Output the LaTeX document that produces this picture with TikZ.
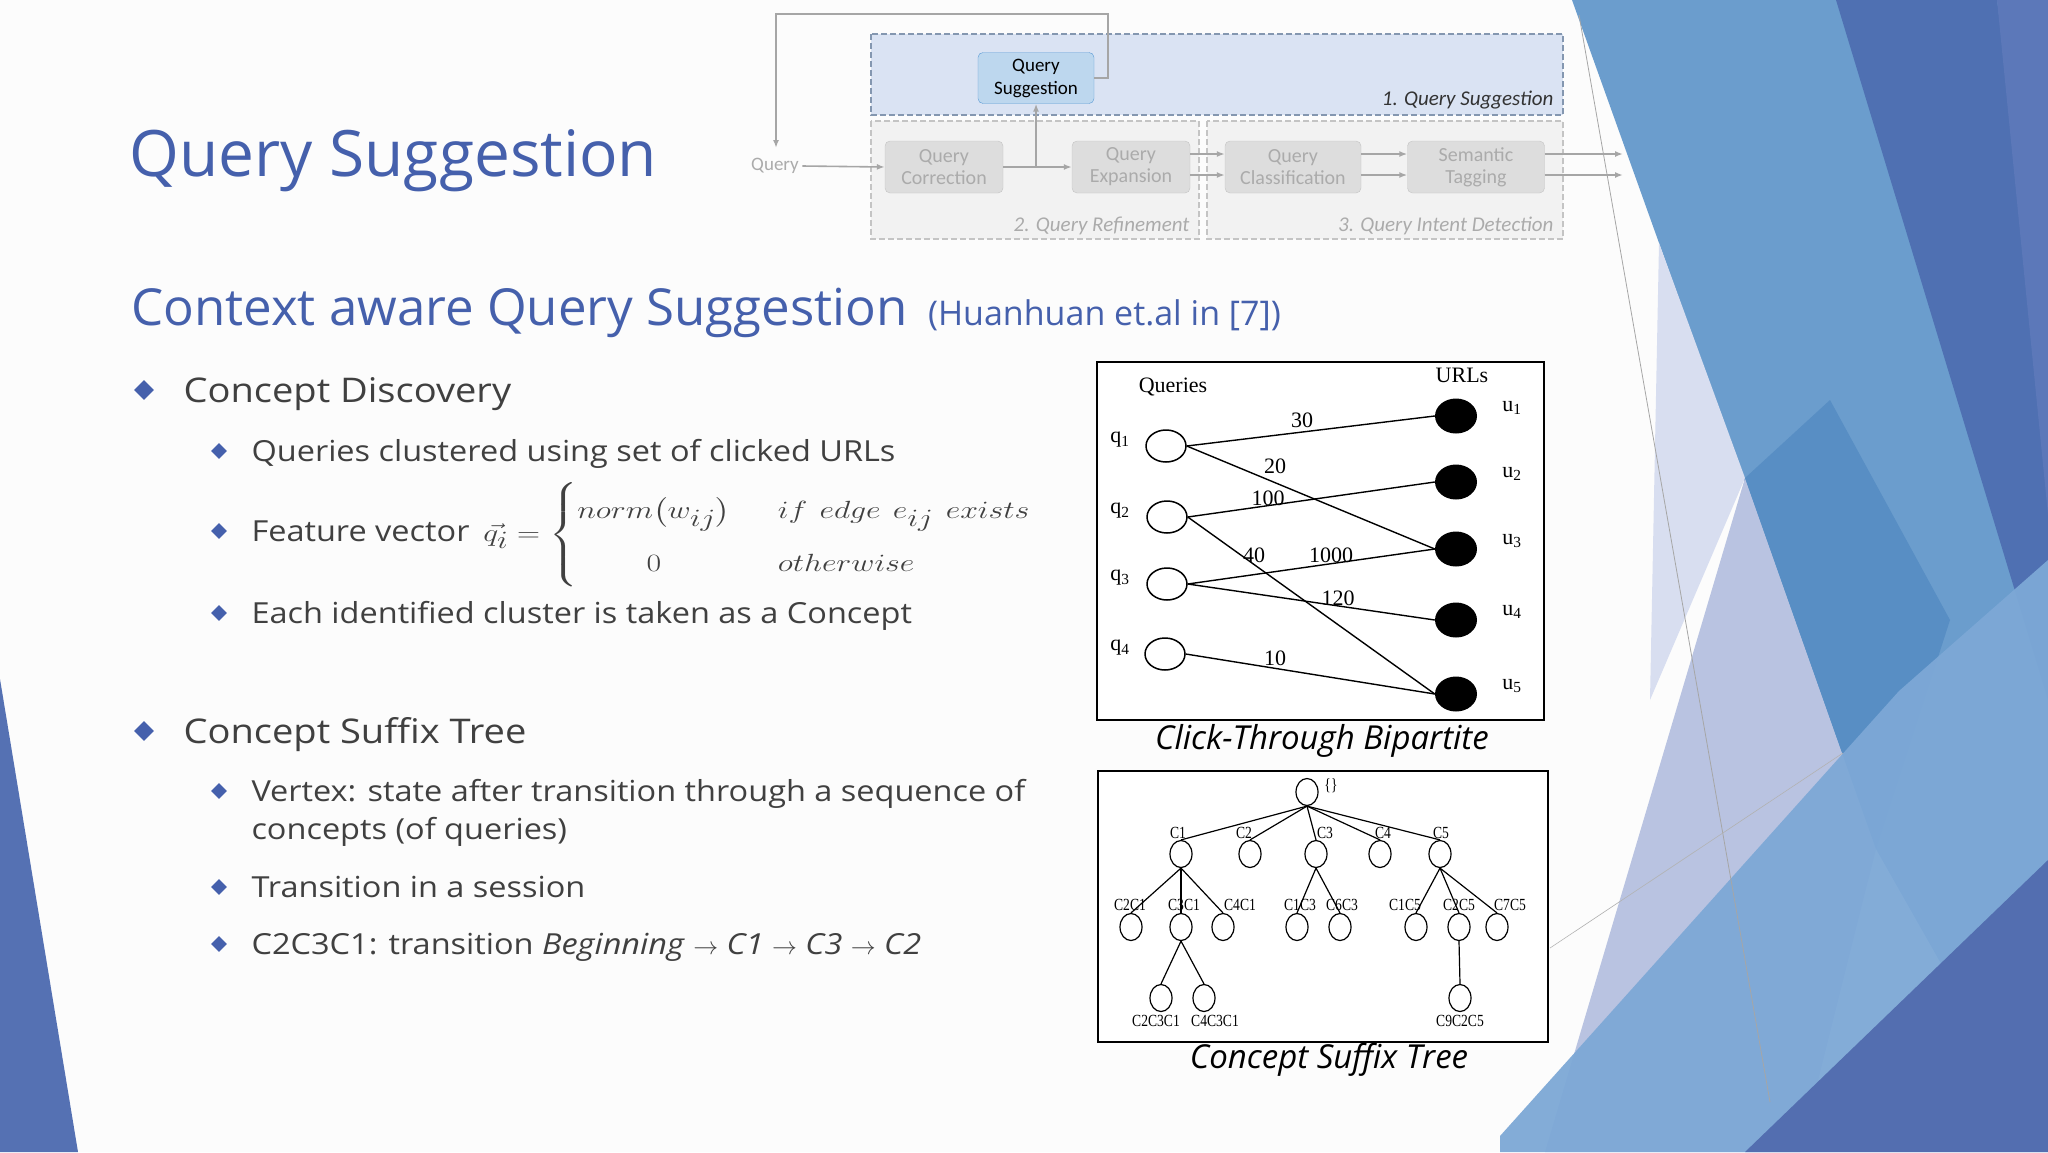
\documentclass[tikz,border=0pt]{standalone}
\usepackage{amsmath}
\usepackage{fontspec}
\setmainfont{Open Sans}
\newfontfamily\bodyfont[FakeStretch=1.12]{Open Sans}
\newfontfamily\calfont{Carlito}
\newfontfamily\timesfont{Liberation Serif}
\newfontfamily\timesnarrow[FakeStretch=0.8]{Liberation Serif}
\usetikzlibrary{shapes.geometric,arrows.meta}
\definecolor{ttl}{HTML}{4560AC}
\definecolor{txt}{HTML}{404040}
\definecolor{bul}{HTML}{4560AC}
\definecolor{gbox}{HTML}{DDDDDD}
\definecolor{gdraw}{HTML}{C4C4C4}
\definecolor{gtxt}{HTML}{ABABAB}
\definecolor{lefttri}{HTML}{5571B3}
\definecolor{bluefill}{HTML}{DAE3F3}
\definecolor{bluedraw}{HTML}{8497B0}
\definecolor{greyfill}{HTML}{F2F2F2}
\definecolor{dark3}{HTML}{333333}
\definecolor{qsdraw}{HTML}{5B9BD5}
\definecolor{qsfill}{HTML}{BDD7EE}
\definecolor{bgA}{RGB}{107,157,205}
\definecolor{bgB}{RGB}{79,112,178}
\definecolor{bgC}{RGB}{92,120,185}
\definecolor{bgD}{RGB}{216,222,240}
\definecolor{bgE}{RGB}{185,195,225}
\definecolor{bgF}{RGB}{88,142,196}
\definecolor{bgG}{RGB}{125,168,214}
\definecolor{bgH}{RGB}{83,110,176}
\begin{document}
\begin{tikzpicture}[x=1pt,y=-1pt,
  lone/.style={diamond,fill=bul,inner sep=0pt,minimum size=20pt},
  ltwo/.style={diamond,fill=bul,inner sep=0pt,minimum size=16pt},
  tone/.style={anchor=base west,text=txt,font=\bodyfont\fontsize{34}{40}\selectfont},
  ttwo/.style={anchor=base west,text=txt,font=\bodyfont\fontsize{29}{36}\selectfont},
  gnode/.style={draw=gdraw,fill=gbox,rounded corners=5pt,text=gtxt,align=center,font=\calfont\fontsize{20}{22}\selectfont,minimum height=52pt,inner sep=1pt},
  garr/.style={draw=gray!70,line width=1.6pt,-{Latex[length=8pt,width=6pt]}},
  qn/.style={ellipse,draw,line width=1.5pt,minimum width=40pt,minimum height=32pt,inner sep=0pt},
  un/.style={ellipse,fill=black,minimum width=42pt,minimum height=35pt,inner sep=0pt},
  bl/.style={font=\timesfont\fontsize{22}{24}\selectfont},
  tn/.style={ellipse,draw,line width=1.2pt,minimum width=22pt,minimum height=27pt,inner sep=0pt},
  tl/.style={font=\timesnarrow\fontsize{17}{18}\selectfont,inner sep=0pt},
  edge/.style={line width=1.4pt}]
\useasboundingbox (0,0) rectangle (2048,1152);
\fill[white!98!gray] (0,0) rectangle (2048,1152);
% background shapes
\fill[lefttri] (0,679) -- (78,1152) -- (0,1152) -- cycle;
\fill[bgA] (1572,0) -- (2048,0) -- (2048,1152) -- (1876,849) -- cycle;
\fill[bgB] (1836,0) -- (1997,0) -- (2048,400) -- (2048,700) -- cycle;
\fill[bgC] (1997,0) -- (2048,0) -- (2048,515) -- cycle;
\fill[bgD] (1659,243) -- (1745,478) -- (1650,700) -- cycle;
\fill[bgE] (1545,1152) -- (1745,478) -- (1876,849) -- (1800,1152) -- cycle;
\fill[bgF] (1745,478) -- (1876,849) -- (1950,620) -- (1830,400) -- cycle;
\fill[bgG,opacity=0.95] (1500,1152) -- (1500,1136) -- (1899,691) -- (2048,560) -- (2048,1152) -- cycle;
\fill[bgH] (1745,1152) -- (2048,860) -- (2048,1152) -- cycle;
\draw[gray!70,line width=0.8pt] (1579,15) -- (1770,1102);
\draw[gray!60,line width=0.6pt] (1550,948) -- (1843,753);
% title
\node[anchor=base west,text=ttl,font=\fontsize{64}{70}\selectfont] (title) at (126,176) {Query Suggestion};
\node[anchor=base west,text=ttl,font=\fontsize{51}{56}\selectfont,inner sep=0pt] (sub) at (131,325) {Context aware Query Suggestion};
\node[anchor=base west,text=ttl,font=\fontsize{34}{38}\selectfont,inner sep=0pt] (subr) at ([xshift=20pt]sub.base east) {(Huanhuan et.al in [7])};
% bullets
\node[lone] (d1) at (144,390) {};
\node[tone] (b1) at (180,402) {Concept Discovery};
\node[ltwo] (d11) at (219,451) {};
\node[ttwo] (b11) at (248,461) {Queries clustered using set of clicked URLs};
\node[ltwo] (d12) at (219,531) {};
\node[ttwo] (b12) at (248,541) {Feature vector};
\node[anchor=base west,text=txt,font=\fontsize{37}{44}\selectfont,inner sep=0pt] (f12) at ([xshift=10pt]b12.base east) {\scalebox{1.28}[1]{$\vec{q_i}=\begin{cases} norm\bigl(w_{ij}\bigr) & if\ edge\ e_{ij}\ exists\\ \hfil 0 & otherwise\end{cases}$}};
\node[ltwo] (d13) at (219,613) {};
\node[ttwo] (b13) at (248,623) {Each identified cluster is taken as a Concept};
\node[lone] (d2) at (144,731) {};
\node[tone] (b2) at (180,743) {Concept Suffix Tree};
\node[ltwo] (d21) at (219,791) {};
\node[ttwo] (b21) at (248,801) {Vertex: state after transition through a sequence of};
\node[ttwo] (b21b) at (248,839) {concepts (of queries)};
\node[ltwo] (d22) at (219,887) {};
\node[ttwo] (b22) at (248,897) {Transition in a session};
\node[ltwo] (d23) at (219,944) {};
\node[ttwo] (b23) at (248,954) {C2C3C1: transition \textit{Beginning} $\rightarrow$ \textit{C1} $\rightarrow$ \textit{C3} $\rightarrow$ \textit{C2}};
% top diagram
\filldraw[fill=bluefill,draw=bluedraw,line width=1.3pt,dash pattern=on 6pt off 3pt] (871,34) rectangle (1563,115);
\filldraw[fill=greyfill,draw=gdraw,line width=1.3pt,dash pattern=on 6pt off 3pt] (871,121) rectangle (1199,239);
\filldraw[fill=greyfill,draw=gdraw,line width=1.3pt,dash pattern=on 6pt off 3pt] (1207,121) rectangle (1563,239);
\node[anchor=south east,font=\calfont\itshape\fontsize{21}{22}\selectfont,text=dark3] (l1) at (1557,113) {1. Query Suggestion};
\node[anchor=south east,font=\calfont\itshape\fontsize{21}{22}\selectfont,text=gtxt] (l2) at (1193,238) {2. Query Refinement};
\node[anchor=south east,font=\calfont\itshape\fontsize{21}{22}\selectfont,text=gtxt] (l3) at (1557,238) {3. Query Intent Detection};
\node[draw=qsdraw,fill=qsfill,rounded corners=5pt,align=center,font=\calfont\fontsize{19}{23}\selectfont,minimum width=116pt,minimum height=51pt,inner sep=1pt] (qs) at (1036,78) {Query\\Suggestion};
\node[gnode,minimum width=118pt] (qc) at (944,167) {Query\\Correction};
\node[gnode,minimum width=118pt] (qe) at (1131,167) {Query\\Expansion};
\node[gnode,minimum width=136pt] (qcl) at (1293,167) {Query\\Classification};
\node[gnode,minimum width=137pt] (st) at (1476,167) {Semantic\\Tagging};
\node[text=gtxt,font=\calfont\fontsize{19}{20}\selectfont] (q) at (775,166) {Query};
\coordinate (fb1) at (1108,78);
\coordinate (fb2) at (1108,14);
\coordinate (fb3) at (776,14);
\coordinate (fb4) at (776,148);
\coordinate (br) at (1036,167);
\coordinate (o1) at (1623,154);
\coordinate (o2) at (1623,175);
\draw[garr] (qs.east) -- (fb1) -- (fb2) -- (fb3) -- (fb4);
\draw[garr] (q.east) -- (qc.west);
\draw[garr] (qc.east) -- (qe.west);
\draw[garr] (br) -- (qs.south);
\draw[garr] ([yshift=13pt]qe.east) -- ([yshift=13pt]qcl.west);
\draw[garr] ([yshift=-8pt]qe.east) -- ([yshift=-8pt]qcl.west);
\draw[garr] ([yshift=13pt]qcl.east) -- ([yshift=13pt]st.west);
\draw[garr] ([yshift=-8pt]qcl.east) -- ([yshift=-8pt]st.west);
\draw[garr] ([yshift=13pt]st.east) -- (o1);
\draw[garr] ([yshift=-8pt]st.east) -- (o2);
% bipartite
\draw[fill=white,line width=1.5pt] (1097,362) rectangle (1544,720);
\node[bl] (hq) at (1173,387) {Queries};
\node[bl] (hu) at (1462,375) {URLs};
\node[qn] (q1) at (1166,446) {};
\node[qn] (q2) at (1167,517) {};
\node[qn] (q3) at (1167,584) {};
\node[qn] (q4) at (1165,654) {};
\node[un] (u1) at (1456,416) {};
\node[un] (u2) at (1456,482) {};
\node[un] (u3) at (1456,549) {};
\node[un] (u4) at (1456,620) {};
\node[un] (u5) at (1456,694) {};
\foreach \i/\y in {1/446,2/517,3/584,4/654} \node[bl] (ql\i) at (1120,\y-6) {q\textsubscript{\i}};
\foreach \i/\y in {1/416,2/482,3/549,4/620,5/694} \node[bl] (ul\i) at (1512,\y-8) {u\textsubscript{\i}};
\draw[edge] (q1.east) -- (u1.west);
\draw[edge] (q1.east) -- (u3.west);
\draw[edge] (q2.east) -- (u2.west);
\draw[edge] (q2.east) -- (u5.west);
\draw[edge] (q3.east) -- (u3.west);
\draw[edge] (q3.east) -- (u4.west);
\draw[edge] (q4.east) -- (u5.west);
\node[bl] (w30) at (1302,420) {30};
\node[bl] (w20) at (1275,466) {20};
\node[bl] (w100) at (1268,498) {100};
\node[bl] (w40) at (1254,555) {40};
\node[bl] (w1000) at (1331,555) {1000};
\node[bl] (w120) at (1338,598) {120};
\node[bl] (w10) at (1275,658) {10};
\node[font=\itshape\fontsize{33}{36}\selectfont,text=black] (cap1) at (1322,741) {Click-Through Bipartite};
% suffix tree
\draw[fill=white,line width=1.5pt] (1098,771) rectangle (1548,1042);
\node[tn] (r) at (1307,792) {};
\node[tl] (rl) at (1331,786) {\{\}};
\foreach \n/\x/\lx in {C1/1181/1178,C2/1250/1244,C3/1316/1325,C4/1380/1383,C5/1440/1441}{
  \node[tn] (\n) at (\x,854) {};
  \node[tl] (l\n) at (\lx,833) {\n};}
\foreach \n/\x/\lx in {C2C1/1131/1130,C3C1/1181/1184,C4C1/1223/1240,C1C3/1297/1300,C6C3/1340/1342,C1C5/1416/1405,C2C5/1459/1459,C7C5/1497/1510}{
  \node[tn] (\n) at (\x,927) {};
  \node[tl] (l\n) at (\lx,905) {\n};}
\foreach \n/\x/\lx in {C2C3C1/1161/1156,C4C3C1/1204/1215,C9C2C5/1460/1460}{
  \node[tn] (\n) at (\x,998) {};
  \node[tl] (l\n) at (\lx,1021) {\n};}
\foreach \a/\b in {r/C1,r/C2,r/C3,r/C4,r/C5,C1/C2C1,C1/C3C1,C1/C4C1,C3/C1C3,C3/C6C3,C5/C1C5,C5/C2C5,C5/C7C5,C3C1/C2C3C1,C3C1/C4C3C1,C2C5/C9C2C5}
  \draw[line width=1.2pt] (\a.south) -- (\b.north);
\node[font=\itshape\fontsize{33}{36}\selectfont,text=black] (cap2) at (1329,1060) {Concept Suffix Tree};
\end{tikzpicture}
\end{document}
